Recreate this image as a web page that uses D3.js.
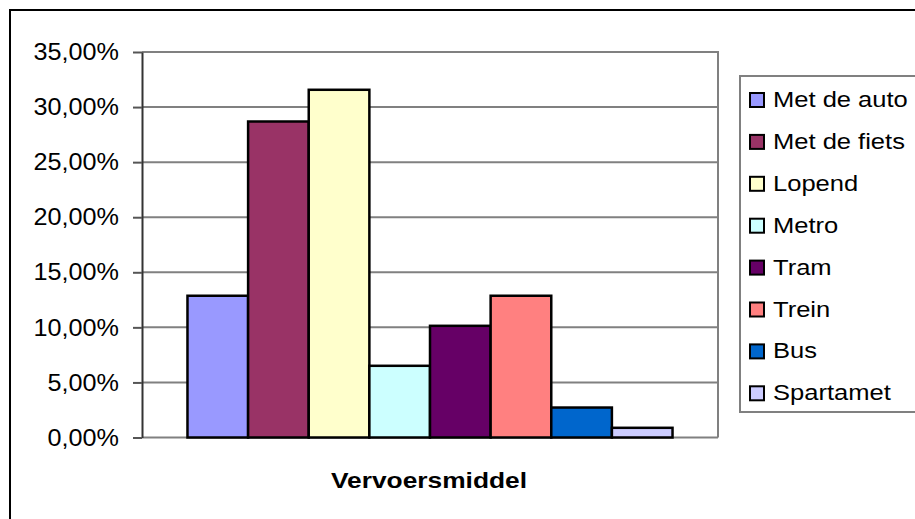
<!DOCTYPE html>
<html>
<head>
<meta charset="utf-8">
<script src="https://d3js.org/d3.v7.min.js"></script>
<style>
  html, body { margin: 0; padding: 0; background: #fff; }
  svg { display: block; font-family: "Liberation Sans", Arial, sans-serif; }
</style>
</head>
<body>
<div id="chart"></div>
<script>
// data
const categories = ["Vervoersmiddel"];
const seriesNames = ["Met de auto", "Met de fiets", "Lopend", "Metro", "Tram", "Trein", "Bus", "Spartamet"];
const seriesValues = [0.1287, 0.2869, 0.3157, 0.0651, 0.1014, 0.1287, 0.0272, 0.0088];
const seriesColors = ["#9999FF", "#993366", "#FFFFCC", "#CCFFFF", "#660066", "#FF8080", "#0066CC", "#CCCCFF"];
const yTicks = [0, 0.05, 0.10, 0.15, 0.20, 0.25, 0.30, 0.35];

const width = 915, height = 519;
const plot = { left: 142, top: 52, right: 718, bottom: 437.5 };

const nl = d3.formatLocale({ decimal: ",", thousands: ".", grouping: [3], currency: ["€", ""] });
const fmt = nl.format(".2%");

// the original text is drawn a bit wider than Arial, stretch it horizontally
function stretch(sel, factor) {
  sel.each(function() {
    const w = this.getComputedTextLength();
    d3.select(this).attr("textLength", w * factor).attr("lengthAdjust", "spacingAndGlyphs");
  });
}

const svg = d3.select("#chart").append("svg")
  .attr("width", width)
  .attr("height", height);

// outer chart border (runs off the right/bottom edge)
svg.append("rect")
  .attr("x", 10).attr("y", 10)
  .attr("width", 1000).attr("height", 1000)
  .attr("fill", "#fff")
  .attr("stroke", "#000")
  .attr("stroke-width", 2);

const y = d3.scaleLinear().domain([0, 0.35]).range([plot.bottom, plot.top]);

// one category, bars grouped inside it (Excel gap width 150%)
const x0 = d3.scaleBand().domain(categories)
  .range([plot.left, plot.right])
  .paddingInner(0).paddingOuter(0.09375);
const x1 = d3.scaleBand().domain(seriesNames)
  .range([0, x0.bandwidth()]).padding(0);

// plot frame top/right
svg.append("path")
  .attr("d", `M${plot.left},${plot.top}H${plot.right}V${plot.bottom}`)
  .attr("fill", "none")
  .attr("stroke", "#808080")
  .attr("stroke-width", 2);

// gridlines
svg.append("g").selectAll("line")
  .data(yTicks)
  .join("line")
  .attr("x1", plot.left).attr("x2", plot.right)
  .attr("y1", d => y(d)).attr("y2", d => y(d))
  .attr("stroke", "#808080")
  .attr("stroke-width", 2);

// y axis
const yAxis = svg.append("g")
  .attr("transform", `translate(${plot.left},0)`)
  .call(d3.axisLeft(y).tickValues(yTicks).tickFormat(fmt).tickSize(9).tickSizeOuter(0).tickPadding(14));
yAxis.select(".domain").attr("stroke", "#333").attr("stroke-width", 2);
yAxis.selectAll(".tick line").attr("stroke", "#555").attr("stroke-width", 2);
yAxis.selectAll(".tick text")
  .attr("font-size", 24)
  .attr("font-family", "'Liberation Sans', Arial, sans-serif")
  .attr("fill", "#000")
  .call(stretch, 1.05);

// bars
const group = svg.append("g").selectAll("g")
  .data(categories)
  .join("g")
  .attr("transform", d => `translate(${x0(d)},0)`);

group.selectAll("rect")
  .data(seriesNames.map((n, i) => ({ name: n, value: seriesValues[i], color: seriesColors[i] })))
  .join("rect")
  .attr("x", d => x1(d.name))
  .attr("y", d => y(d.value))
  .attr("width", x1.bandwidth())
  .attr("height", d => y(0) - y(d.value))
  .attr("fill", d => d.color)
  .attr("stroke", "#000")
  .attr("stroke-width", 2.5);

// x axis title
svg.append("text")
  .attr("x", (plot.left + plot.right) / 2 - 1)
  .attr("y", 488)
  .attr("text-anchor", "middle")
  .attr("font-size", 22)
  .attr("font-weight", "bold")
  .text(categories[0])
  .attr("textLength", 196)
  .attr("lengthAdjust", "spacingAndGlyphs");

// legend
const legend = svg.append("g").attr("transform", "translate(740,76)");
legend.append("rect")
  .attr("width", 300).attr("height", 336)
  .attr("fill", "#fff")
  .attr("stroke", "#808080")
  .attr("stroke-width", 2);

const item = legend.selectAll("g.item")
  .data(seriesNames)
  .join("g")
  .attr("class", "item")
  .attr("transform", (d, i) => `translate(0,${24 + i * 41.9})`);

item.append("rect")
  .attr("x", 10).attr("y", -7)
  .attr("width", 14).attr("height", 14)
  .attr("fill", (d, i) => seriesColors[i])
  .attr("stroke", "#000")
  .attr("stroke-width", 2);

item.append("text")
  .attr("x", 33)
  .attr("y", 7)
  .attr("font-size", 22)
  .text(d => d)
  .call(stretch, 1.16);
</script>
</body>
</html>
